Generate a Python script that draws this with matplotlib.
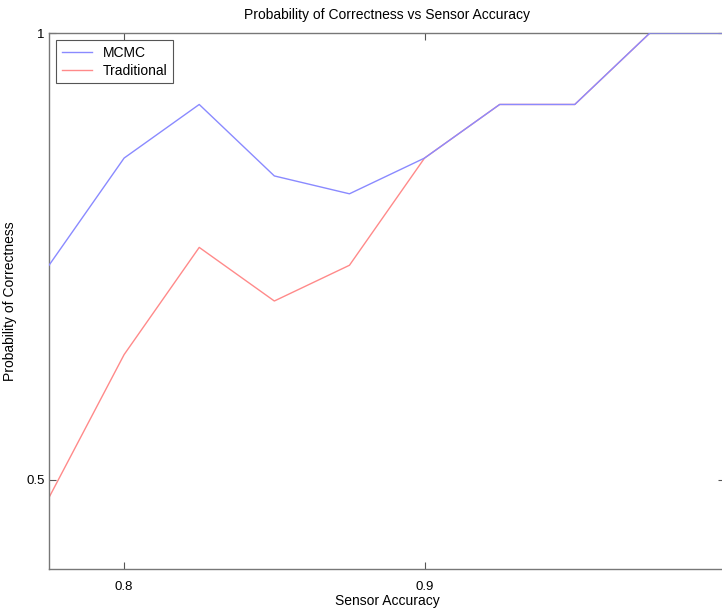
import matplotlib
matplotlib.use("Agg")
import matplotlib.pyplot as plt

plt.rcParams['font.family'] = ['Liberation Sans', 'DejaVu Sans']

accuracy = [0.775, 0.8, 0.825, 0.85, 0.875, 0.9, 0.925, 0.95, 0.975, 1.0]
mcmc = [0.74, 0.86, 0.92, 0.84, 0.82, 0.86, 0.92, 0.92, 1.0, 1.0]
traditional = [0.48, 0.64, 0.76, 0.70, 0.74, 0.86, 0.92, 0.92, 1.0, 1.0]

fig = plt.figure(figsize=(7.22, 6.10), dpi=100)
# axes run a little past the right edge, like the cropped original
ax = fig.add_axes([49 / 722, 41 / 610, 676 / 722, 536 / 610])

ax.plot(accuracy, traditional, color='#ff8a8a', lw=1.0, zorder=2, label='Traditional')
ax.plot(accuracy, mcmc, color='#8a8aff', lw=1.0, zorder=3, label='MCMC')

ax.set_xlim(0.775, 1.0)
ax.set_ylim(0.4, 1.0)
ax.set_xticks([0.8, 0.9])
ax.set_xticklabels(['0.8', '0.9'])
ax.set_yticks([0.5, 1.0])
ax.set_yticklabels(['0.5', '1'])
ax.tick_params(direction='in', top=True, right=True, length=5, width=0.8,
               color='#555555', labelsize=9.5)
ax.tick_params(axis='x', pad=9)
ax.tick_params(axis='y', pad=3)

for s in ax.spines.values():
    s.set_color('#777777')
    s.set_linewidth(1.0)

ax.set_title('Probability of Correctness vs Sensor Accuracy', fontsize=10, pad=10)
ax.set_xlabel('Sensor Accuracy', fontsize=10, labelpad=0)
ax.set_ylabel('Probability of Correctness', fontsize=10, labelpad=7)

handles, labels = ax.get_legend_handles_labels()
leg = ax.legend(handles[::-1], labels[::-1], loc='upper left', fontsize=10,
                fancybox=False, framealpha=1, edgecolor='#555555',
                handlelength=2.2, borderaxespad=0.5, borderpad=0.4,
                labelspacing=0.3)
leg.get_frame().set_linewidth(0.8)

fig.savefig('out.png', dpi=100)
